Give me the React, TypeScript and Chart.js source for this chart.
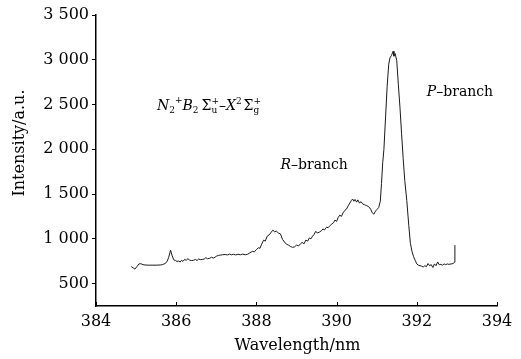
import React, { useEffect, useRef } from "react";
import { Chart, registerables } from "chart.js";

Chart.register(...registerables);

const wavelengths = [
  384.88, 384.93, 384.97, 385.02, 385.07, 385.12, 385.17, 385.22, 385.3, 385.4,
  385.5, 385.6, 385.66, 385.72, 385.77, 385.81, 385.86, 385.9, 385.94, 385.98,
  386.02, 386.06, 386.1, 386.13, 386.17, 386.21, 386.25, 386.29, 386.33, 386.38,
  386.43, 386.48, 386.52, 386.56, 386.6, 386.65, 386.7, 386.74, 386.78, 386.83,
  386.88, 386.93, 386.97, 387.0, 387.05, 387.1, 387.15, 387.22, 387.28, 387.33,
  387.38, 387.43, 387.48, 387.54, 387.6, 387.66, 387.72, 387.78, 387.84, 387.9,
  387.95, 388.0, 388.05, 388.09, 388.13, 388.18, 388.22, 388.27, 388.32, 388.37,
  388.41, 388.45, 388.5, 388.55, 388.6, 388.65, 388.7, 388.75, 388.8, 388.85,
  388.9, 388.95, 389.0, 389.05, 389.1, 389.14, 389.19, 389.23, 389.28, 389.32,
  389.36, 389.4, 389.44, 389.48, 389.52, 389.57, 389.62, 389.66, 389.7, 389.75,
  389.79, 389.84, 389.88, 389.92, 389.96, 390.0, 390.04, 390.08, 390.12, 390.16,
  390.21, 390.25, 390.29, 390.33, 390.37, 390.4, 390.43, 390.46, 390.5, 390.53,
  390.57, 390.61, 390.65, 390.7, 390.75, 390.8, 390.85, 390.89, 390.93, 390.97,
  391.01, 391.05, 391.09, 391.12, 391.15, 391.18, 391.22, 391.26, 391.3, 391.33,
  391.37, 391.41, 391.43, 391.46, 391.5, 391.54, 391.58, 391.62, 391.66, 391.7,
  391.75, 391.8, 391.84, 391.88, 391.92, 391.96, 392.0, 392.04, 392.08, 392.12,
  392.16, 392.2, 392.24, 392.28, 392.32, 392.36, 392.4, 392.44, 392.48, 392.52,
  392.56, 392.6, 392.64, 392.68, 392.72, 392.76, 392.8, 392.86, 392.91, 392.94,
  392.95,
];

const intensities = [
  690, 675, 662, 690, 720, 722, 712, 708, 706, 706,
  706, 708, 712, 724, 745, 790, 873, 810, 765, 758,
  748, 752, 742, 760, 748, 772, 758, 780, 762, 758,
  760, 770, 758, 775, 768, 770, 775, 790, 778, 782,
  795, 785, 796, 805, 815, 818, 822, 825, 820, 830,
  822, 828, 820, 828, 822, 830, 822, 828, 845, 860,
  855, 880, 900, 895, 940, 985, 975, 1030, 1045, 1075,
  1097, 1080, 1085, 1065, 1055, 995, 965, 940, 930, 915,
  905, 910, 930, 920, 945, 960, 945, 985, 975, 1010,
  1000, 1030, 1050, 1085, 1065, 1075, 1090, 1110, 1100, 1130,
  1125, 1150, 1165, 1178, 1210, 1195, 1240, 1265, 1250, 1290,
  1320, 1335, 1370, 1400, 1430, 1445, 1420, 1440, 1410, 1435,
  1400, 1415, 1390, 1380, 1370, 1360, 1330, 1290, 1275, 1310,
  1330, 1350, 1420, 1620, 1850, 2000, 2350, 2700, 2950, 3020,
  3050, 3095, 3040, 3070, 2990, 2720, 2470, 2180, 1900, 1650,
  1430, 1150, 950, 860, 800, 760, 720, 705, 700, 695,
  686, 700, 690, 724, 700, 712, 680, 720, 700, 742,
  710, 715, 705, 720, 712, 720, 715, 720, 724, 740,
  930,
];

const xTicks = [384, 386, 388, 390, 392, 394];
const yTicks = [500, 1000, 1500, 2000, 2500, 3000, 3500];
const X_MIN = 384;
const X_MAX = 394;
const Y_MIN = 250;
const Y_MAX = 3500;

const xTitle = "Wavelength/nm";
const yTitle = "Intensity/a.u.";
const rLabel = { text: "–branch", italic: "R", x: 388.6, y: 1780 };
const pLabel = { text: "–branch", italic: "P", x: 392.25, y: 2590 };
const formulaPos = { x: 385.52, y: 2440 };

const FONT = '"DejaVu Serif", serif';

function fmt(v: number): string {
  if (v >= 1000) {
    const th = Math.floor(v / 1000);
    const rest = String(v % 1000).padStart(3, "0");
    return `${th} ${rest}`;
  }
  return String(v);
}

function drawBranch(ctx: CanvasRenderingContext2D, x: number, y: number, it: string, rest: string) {
  ctx.textAlign = "left";
  ctx.textBaseline = "alphabetic";
  ctx.font = `italic 14px ${FONT}`;
  ctx.fillText(it, x, y);
  const w = ctx.measureText(it).width;
  ctx.font = `14px ${FONT}`;
  ctx.fillText(rest, x + w, y);
}

function drawFormula(ctx: CanvasRenderingContext2D, x0: number, y: number) {
  const it = `italic 14px ${FONT}`;
  const rm = `14px ${FONT}`;
  const sm = `9px ${FONT}`;
  let x = x0;
  ctx.textAlign = "left";
  ctx.textBaseline = "alphabetic";
  const put = (t: string, f: string, dy = 0) => {
    ctx.font = f;
    ctx.fillText(t, x, y + dy);
    x += ctx.measureText(t).width;
  };
  const stack = (sub: string, sup: string) => {
    ctx.font = sm;
    ctx.fillText(sub, x, y + 3);
    ctx.fillText(sup, x, y - 6);
    x += Math.max(ctx.measureText(sub).width, ctx.measureText(sup).width);
  };
  put("N", it);
  put("2", sm, 3);
  put("+", sm, -7);
  put("B", it);
  put("2", sm, 3);
  x += 3;
  put("Σ", rm);
  stack("u", "+");
  put("–", rm);
  put("X", it);
  put("2", sm, -6);
  x += 2;
  put("Σ", rm);
  stack("g", "+");
}

const annotPlugin = {
  id: "annot",
  afterDraw(chart: any) {
    const ctx: CanvasRenderingContext2D = chart.ctx;
    const xs = chart.scales.x;
    const ys = chart.scales.y;
    ctx.save();
    ctx.strokeStyle = "#000";
    ctx.fillStyle = "#000";
    ctx.lineWidth = 1;
    for (const t of xTicks) {
      const px = Math.round(xs.getPixelForValue(t)) + 0.5;
      ctx.beginPath();
      ctx.moveTo(px, ys.bottom);
      ctx.lineTo(px, ys.bottom - 4);
      ctx.stroke();
    }
    ctx.font = `16px ${FONT}`;
    ctx.textAlign = "center";
    ctx.textBaseline = "middle";
    ctx.fillText(xTitle, (xs.left + xs.right) / 2 + 1, 346);
    ctx.save();
    ctx.translate(20, 143);
    ctx.rotate(-Math.PI / 2);
    ctx.fillText(yTitle, 0, 0);
    ctx.restore();
    drawBranch(ctx, xs.getPixelForValue(rLabel.x), ys.getPixelForValue(rLabel.y), rLabel.italic, rLabel.text);
    drawBranch(ctx, xs.getPixelForValue(pLabel.x), ys.getPixelForValue(pLabel.y), pLabel.italic, pLabel.text);
    drawFormula(ctx, xs.getPixelForValue(formulaPos.x), ys.getPixelForValue(formulaPos.y));
    ctx.restore();
  },
};

export default function App() {
  const ref = useRef<HTMLCanvasElement>(null);
  useEffect(() => {
    if (!ref.current) return;
    const data = wavelengths.map((w, i) => ({ x: w, y: intensities[i] }));
    const chart = new Chart(ref.current, {
      type: "line",
      data: {
        datasets: [
          {
            data,
            borderColor: "#1a1a1a",
            borderWidth: 1,
            pointRadius: 0,
            tension: 0,
            fill: false,
          },
        ],
      },
      options: {
        responsive: false,
        animation: false,
        layout: { padding: { top: 15, right: 24, left: 0, bottom: 0 } },
        plugins: { legend: { display: false }, tooltip: { enabled: false } },
        scales: {
          x: {
            type: "linear",
            min: X_MIN,
            max: X_MAX,
            afterBuildTicks: (s: any) => {
              s.ticks = xTicks.map((v) => ({ value: v }));
            },
            afterFit: (s: any) => {
              s.height = 53;
            },
            border: { display: true, color: "#000", width: 1.5 },
            grid: { display: true, drawOnChartArea: false, drawTicks: false },
            ticks: {
              padding: 6,
              color: "#000",
              font: { family: FONT, size: 16 },
              maxRotation: 0,
              callback: (v: any) => String(v),
            },
          },
          y: {
            type: "linear",
            min: Y_MIN,
            max: Y_MAX,
            afterBuildTicks: (s: any) => {
              s.ticks = yTicks.map((v) => ({ value: v }));
            },
            afterFit: (s: any) => {
              s.width = 96;
            },
            border: { display: true, color: "#000", width: 1.5 },
            grid: { display: true, drawOnChartArea: false, drawTicks: true, tickLength: 4, color: "#000" },
            ticks: {
              padding: 3,
              color: "#000",
              font: { family: FONT, size: 16 },
              callback: (v: any) => fmt(Number(v)),
            },
          },
        },
      },
      plugins: [annotPlugin],
    } as any);
    return () => chart.destroy();
  }, []);
  return (
    <div style={{ position: "absolute", left: 0, top: 0, width: 521, height: 359, background: "#fff" }}>
      <canvas ref={ref} width={521} height={359} style={{ display: "block" }} />
    </div>
  );
}
